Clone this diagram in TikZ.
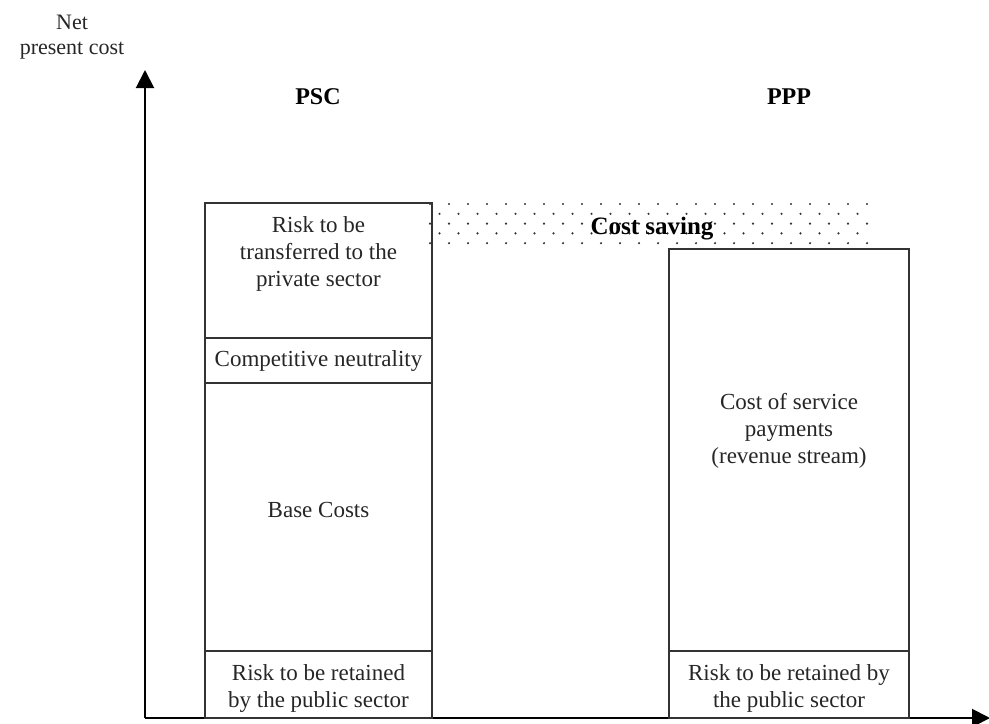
\documentclass[tikz,border=0pt]{standalone}
\usepackage{fontspec}
\setmainfont{Liberation Serif}
\usetikzlibrary{arrows.meta}
\definecolor{lineGR}{HTML}{333333}
\definecolor{dotGR}{HTML}{333333}
\newcommand{\costblk}[7]{%
  \pgfmathsetmacro{\cbcx}{(#2+#3)/2}%
  \pgfmathsetmacro{\cbcy}{(#4+#5)/2}%
  \node[blk, minimum width=(#3-#2)*0.5pt, minimum height=(#5-#4)*0.5pt] (#1) at (\cbcx,\cbcy) {};
  \node[lbl] (#1t) at (\cbcx,#6) {#7};}

\begin{document}
\begin{tikzpicture}[x=0.5pt, y=-0.5pt,
  blk/.style={draw=lineGR, line width=0.75pt, inner sep=0pt, outer sep=0pt},
  lbl/.style={font=\fontsize{11.5}{13.5}\selectfont, align=center, inner sep=0pt, text=black!85},
  hdr/.style={font=\fontsize{12}{14}\selectfont\bfseries, inner sep=0pt},
  axis/.style={draw=black, line width=1pt, -{Triangle[length=9pt, width=9pt]}}]
\useasboundingbox (0,0) rectangle (989,723);
% axes
\coordinate (origin) at (145,718);
\coordinate (ytip) at (145,70);
\coordinate (xtip) at (990,718);
\draw[axis] (origin) -- (ytip);
\draw[axis] (origin) -- (xtip);
\node[lbl, font=\fontsize{11}{12.5}\selectfont] (ylab) at (72,37) {Net\\present cost};
% header
\node[hdr] (psc) at (318,97) {PSC};
\node[hdr] (ppp) at (789,97) {PPP};
% cost saving band
\foreach \r in {0,...,4}{
  \pgfmathsetmacro{\off}{mod(\r,2)*9.5}
  \foreach \c in {0,...,23}{
    \pgfmathsetmacro{\dx}{430+\off+\c*19}
    \ifdim\dx pt<874pt \fill[dotGR] (\dx,204+\r*9.8) circle (0.6pt);\fi
  }}
% PSC
\costblk{psc-rt}{205}{432}{203}{338}{254}{Risk to be\\transferred to the\\private sector}
\costblk{psc-cn}{205}{432}{338}{383}{361}{Competitive neutrality}
\costblk{psc-bc}{205}{432}{383}{651}{510}{Base Costs}
\costblk{psc-rr}{205}{432}{651}{718}{688}{Risk to be retained\\by the public sector}
% PPP
\costblk{ppp-cs}{669}{909}{249}{651}{431}{Cost of service\\payments\\(revenue stream)}
\costblk{ppp-rr}{669}{909}{651}{718}{688}{Risk to be retained by\\the public sector}
\node[hdr, font=\fontsize{12.5}{14}\selectfont\bfseries] (saving) at (652,229) {Cost saving};
\end{tikzpicture}
\end{document}
